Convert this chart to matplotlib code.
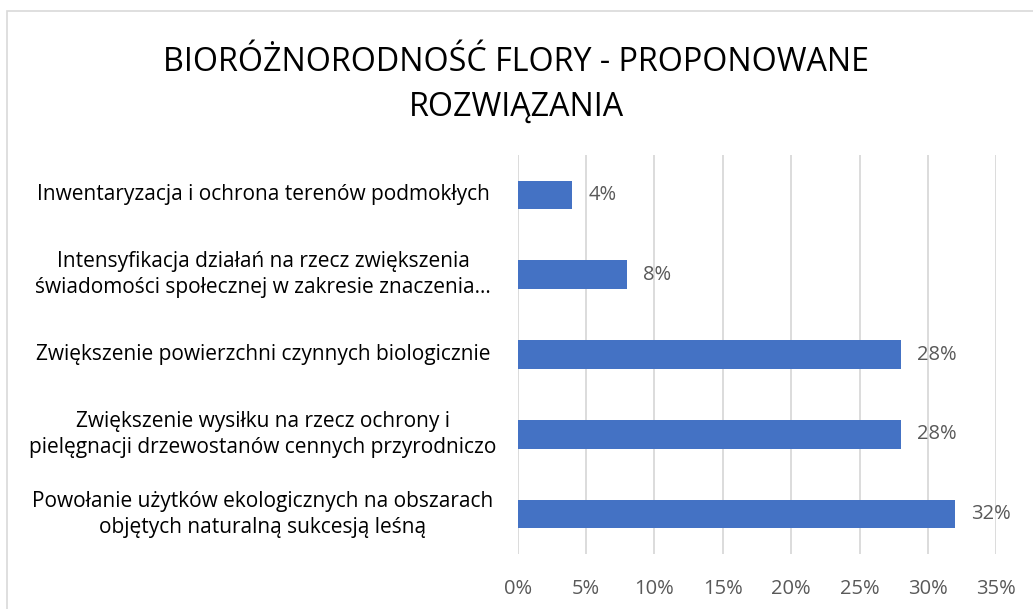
import matplotlib
matplotlib.use("Agg")
import matplotlib.pyplot as plt
from matplotlib.patches import Rectangle
from matplotlib.ticker import MultipleLocator, FuncFormatter

title = "BIORÓŻNORODNOŚĆ FLORY - PROPONOWANE\nROZWIĄZANIA"
categories = [
    "Inwentaryzacja i ochrona terenów podmokłych",
    "Intensyfikacja działań na rzecz zwiększenia\nświadomości społecznej w zakresie znaczenia…",
    "Zwiększenie powierzchni czynnych biologicznie",
    "Zwiększenie wysiłku na rzecz ochrony i\npielęgnacji drzewostanów cennych przyrodniczo",
    "Powołanie użytków ekologicznych na obszarach\nobjętych naturalną sukcesją leśną",
]
values = [4, 8, 28, 28, 32]
x_max = 35
x_step = 5

FONT = "Open Sans"
plt.rcParams['font.family'] = [FONT, 'DejaVu Sans']

W, H = 1033, 609
fig = plt.figure(figsize=(W / 100, H / 100), dpi=100)
fig.patch.set_facecolor("white")

# chart border
fig.add_artist(Rectangle((7 / W, -0.1), 1.2, 1 - 11 / H + 0.1, transform=fig.transFigure,
                         fill=False, edgecolor="#D9D9D9", linewidth=1.2))

ax = fig.add_axes([517.7 / W, 1 - 554 / H, (996.3 - 517.7) / W, (554 - 155) / H])
y = list(range(len(categories)))
ax.barh(y, values, height=0.36, color="#4472C4", zorder=3)
ax.set_ylim(len(categories) - 0.5, -0.5)
ax.set_xlim(0, x_max)
ax.xaxis.set_major_locator(MultipleLocator(x_step))
ax.xaxis.set_major_formatter(FuncFormatter(lambda v, p: f"{v:.0f}%"))
ax.grid(axis="x", color="#D9D9D9", linewidth=1.3, zorder=0)
for s in ax.spines.values():
    s.set_visible(False)
ax.tick_params(axis="x", length=0, pad=18, labelsize=14.5, labelcolor="#595959")
ax.tick_params(axis="y", length=0)
ax.set_yticks([])

for yi, v in zip(y, values):
    ax.annotate(f"{v}%", (v, yi), xytext=(16, 0), textcoords="offset pixels",
                va="center", ha="left", fontsize=14.5, color="#595959")

# category labels
for yi, c in zip(y, categories):
    ax.annotate(c, (0, yi), xycoords=("axes fraction", "data"),
                xytext=(263 - 517.7, 0), textcoords="offset pixels",
                ha="center", va="center", multialignment="center",
                fontsize=15, color="#000000", linespacing=1.3)

fig.text(516 / W, 1 - 85 / H, title, ha="center", va="center", fontsize=23.2,
         color="#000000", linespacing=1.45)

fig.savefig("out.png", dpi=100)
